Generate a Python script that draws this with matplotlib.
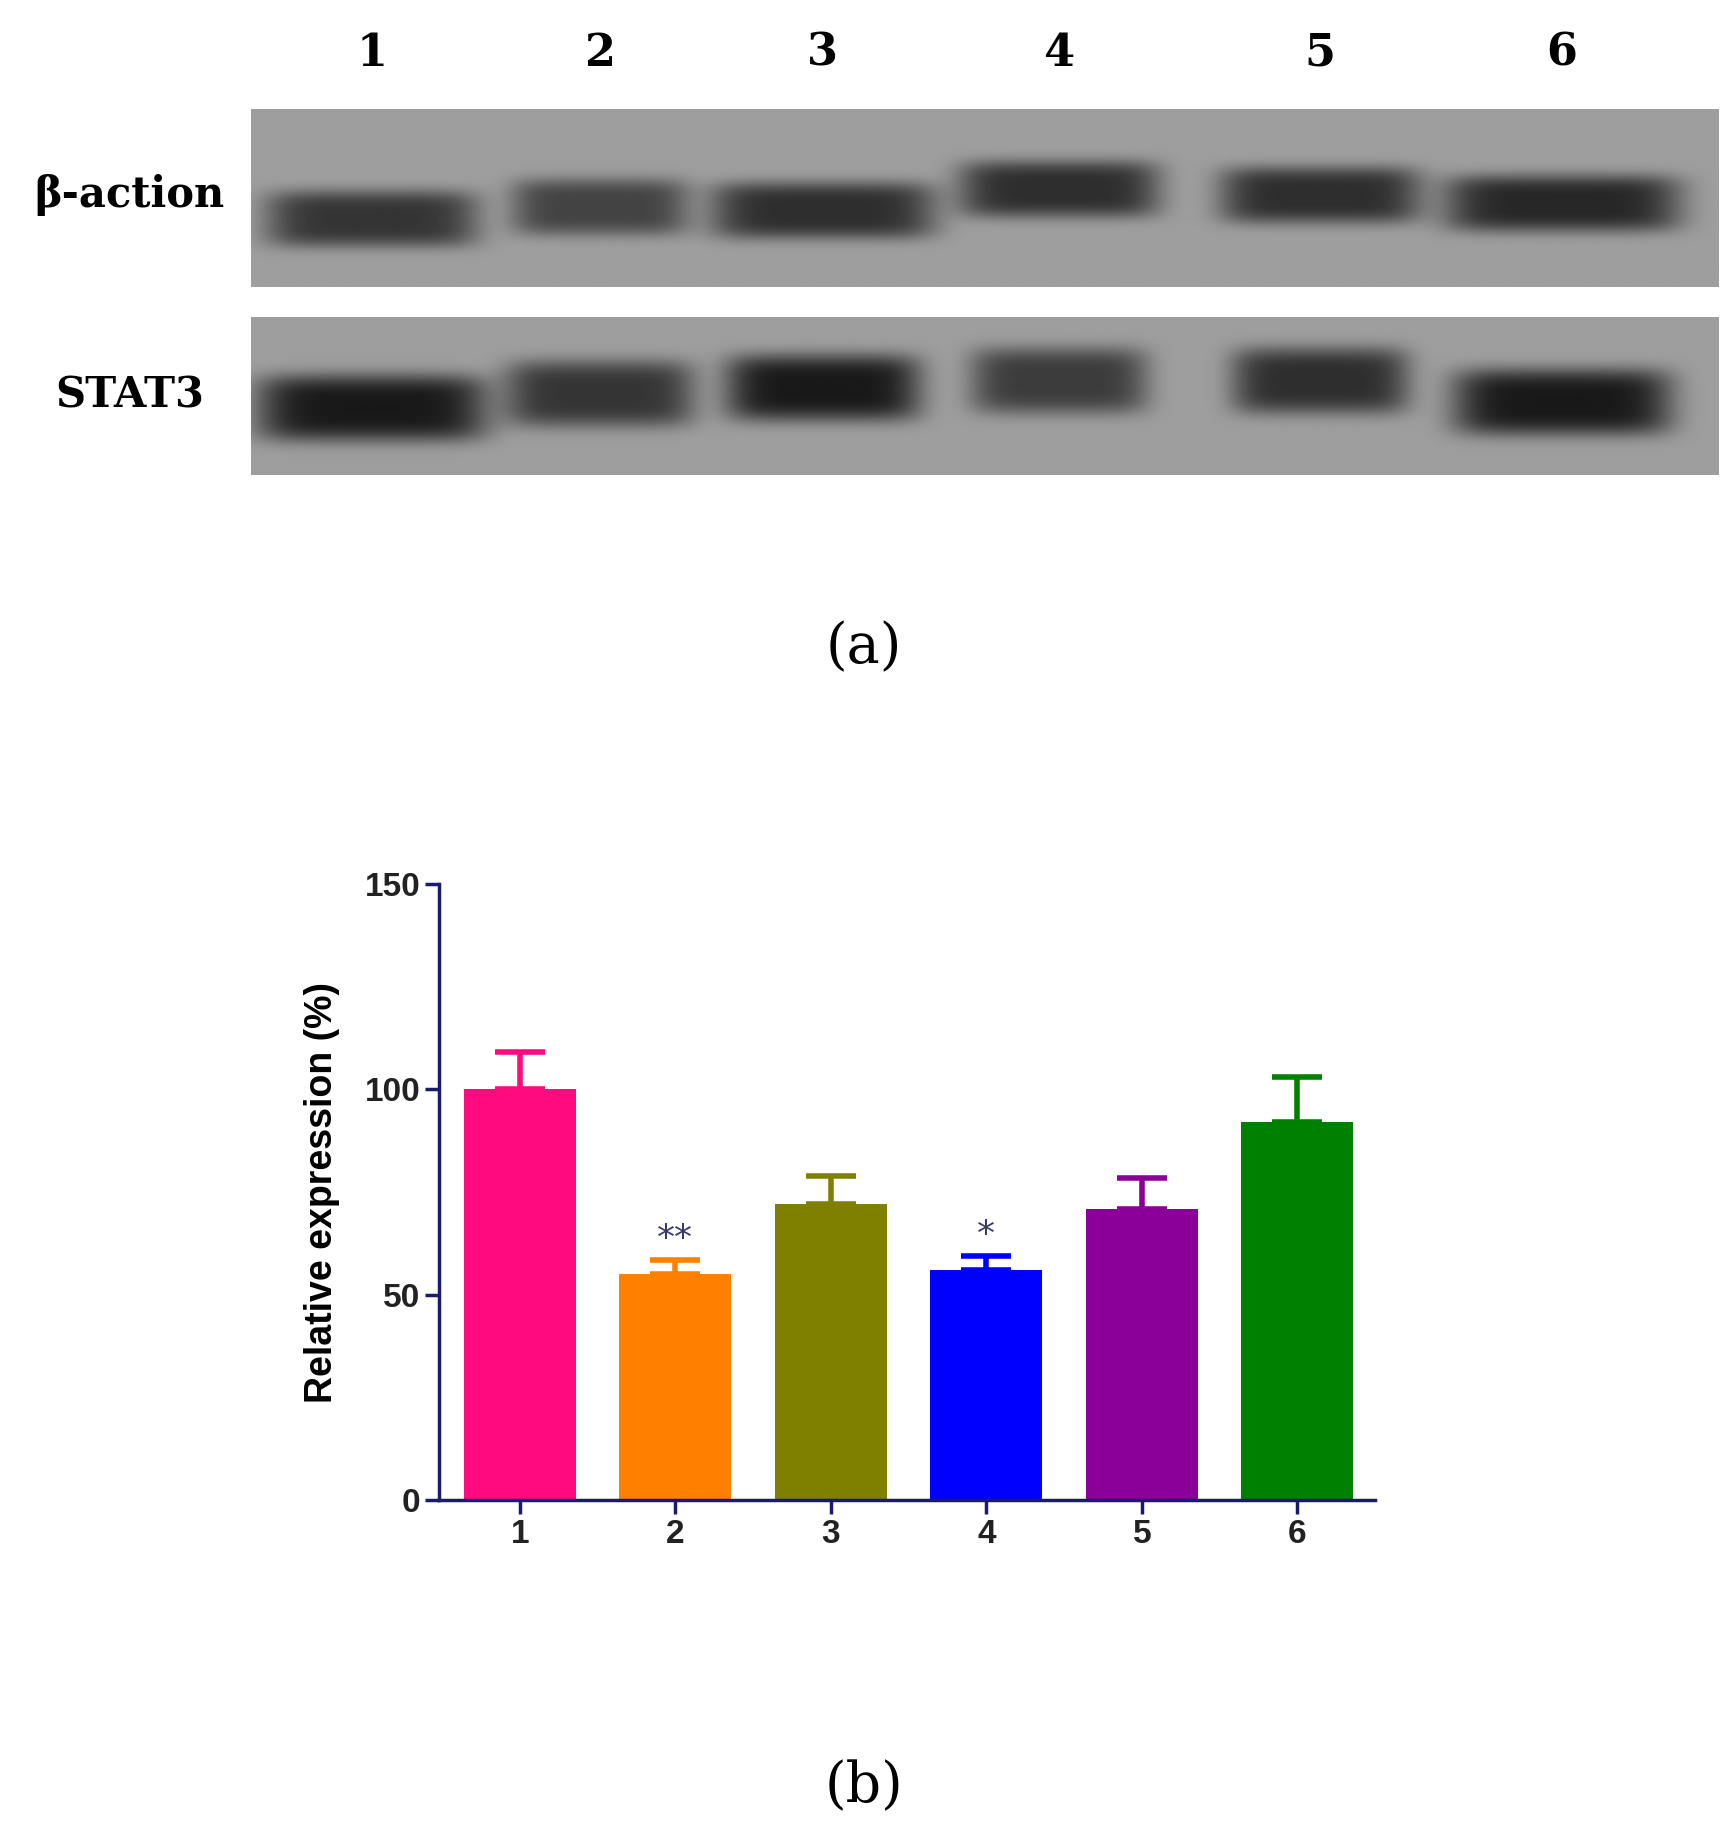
import numpy as np
import matplotlib.pyplot as plt
plt.switch_backend("agg")

W, H = 1464.0, 1554.0   # reference layout units

lanes = ["1", "2", "3", "4", "5", "6"]
means = [100, 55, 72, 56, 71, 92]
errs = [9, 3.5, 7, 3.5, 7.5, 11]
stars = ["", "**", "", "*", "", ""]
colors = ["#ff0a7f", "#ff8000", "#808000", "#0000ff", "#8b0099", "#008000"]

# blot band description (lane centre, band centre, width, darkness)
lane_x = [315, 508, 697, 897, 1118, 1323]
actin_y = [185, 175, 178, 160, 165, 172]
actin_w = [180, 150, 190, 170, 170, 200]
actin_d = [0.75, 0.65, 0.8, 0.8, 0.8, 0.85]
stat_y = [345, 333, 328, 322, 322, 340]
stat_w = [195, 160, 165, 150, 150, 185]
stat_d = [0.95, 0.75, 0.95, 0.7, 0.8, 0.95]


def rect(x0, y0, x1, y1):
    return [x0 / W, 1 - y1 / H, (x1 - x0) / W, (y1 - y0) / H]


def blot(ax, x0, y0, x1, y1, ys, ws, ds, bh):
    xx, yy = np.meshgrid(np.arange(x0, x1), np.arange(y0, y1))
    img = np.full(xx.shape, 0.62)
    for cx, cy, w, d in zip(lane_x, ys, ws, ds):
        band = np.exp(-(((xx - cx) / (w / 2)) ** 6) - ((yy - cy) / bh) ** 4)
        img -= d * 0.55 * band
    ax.imshow(img, cmap="gray", vmin=0, vmax=1, aspect="auto",
              extent=(x0, x1, y1, y0))
    ax.set_axis_off()


fig = plt.figure(figsize=(17.28, 18.36), dpi=100)

ax1 = fig.add_axes(rect(213, 92, 1456, 243))
blot(ax1, 213, 92, 1456, 243, actin_y, actin_w, actin_d, 24)
ax2 = fig.add_axes(rect(213, 268, 1456, 402))
blot(ax2, 213, 268, 1456, 402, stat_y, stat_w, stat_d, 28)

serif = {"family": "DejaVu Serif", "weight": "bold"}
for lx, lab in zip(lane_x, lanes):
    fig.text(lx / W, 1 - 45 / H, lab, ha="center", va="center", fontsize=32, **serif)
fig.text(110 / W, 1 - 165 / H, "β-action", ha="center", va="center", fontsize=30, **serif)
fig.text(110 / W, 1 - 335 / H, "STAT3", ha="center", va="center", fontsize=30, **serif)
fig.text(732 / W, 1 - 548 / H, "(a)", ha="center", va="center", fontsize=40,
         family="DejaVu Serif")
fig.text(732 / W, 1 - 1512 / H, "(b)", ha="center", va="center", fontsize=40,
         family="DejaVu Serif")

ax = fig.add_axes(rect(372, 748, 1165, 1270))
x = np.arange(1, 7)
ax.bar(x, means, width=0.72, color=colors)
for xi, m, e, c, s in zip(x, means, errs, colors, stars):
    ax.errorbar(xi, m, yerr=[[0], [e]], color=c, capsize=18, elinewidth=4,
                capthick=4)
    if s:
        ax.text(xi, m + e + 1, s, ha="center", va="bottom", fontsize=26,
                color="#3a3a6a")
ax.set_xlim(0.48, 6.5)
ax.set_ylim(0, 150)
ax.set_yticks([0, 50, 100, 150])
ax.set_xticks(x, lanes)
navy = "#1a1a6e"
for sp in ["top", "right"]:
    ax.spines[sp].set_visible(False)
for sp in ["left", "bottom"]:
    ax.spines[sp].set_color(navy)
    ax.spines[sp].set_linewidth(2.5)
ax.tick_params(colors=navy, width=2.5, length=10, labelsize=24,
               labelcolor="#222222")
for t in ax.get_xticklabels() + ax.get_yticklabels():
    t.set_fontweight("bold")
    t.set_family("Liberation Sans")
ax.set_ylabel("Relative expression (%)", fontsize=27, family="Liberation Sans",
              weight="bold", labelpad=18)

fig.savefig("out.png", dpi=100)
